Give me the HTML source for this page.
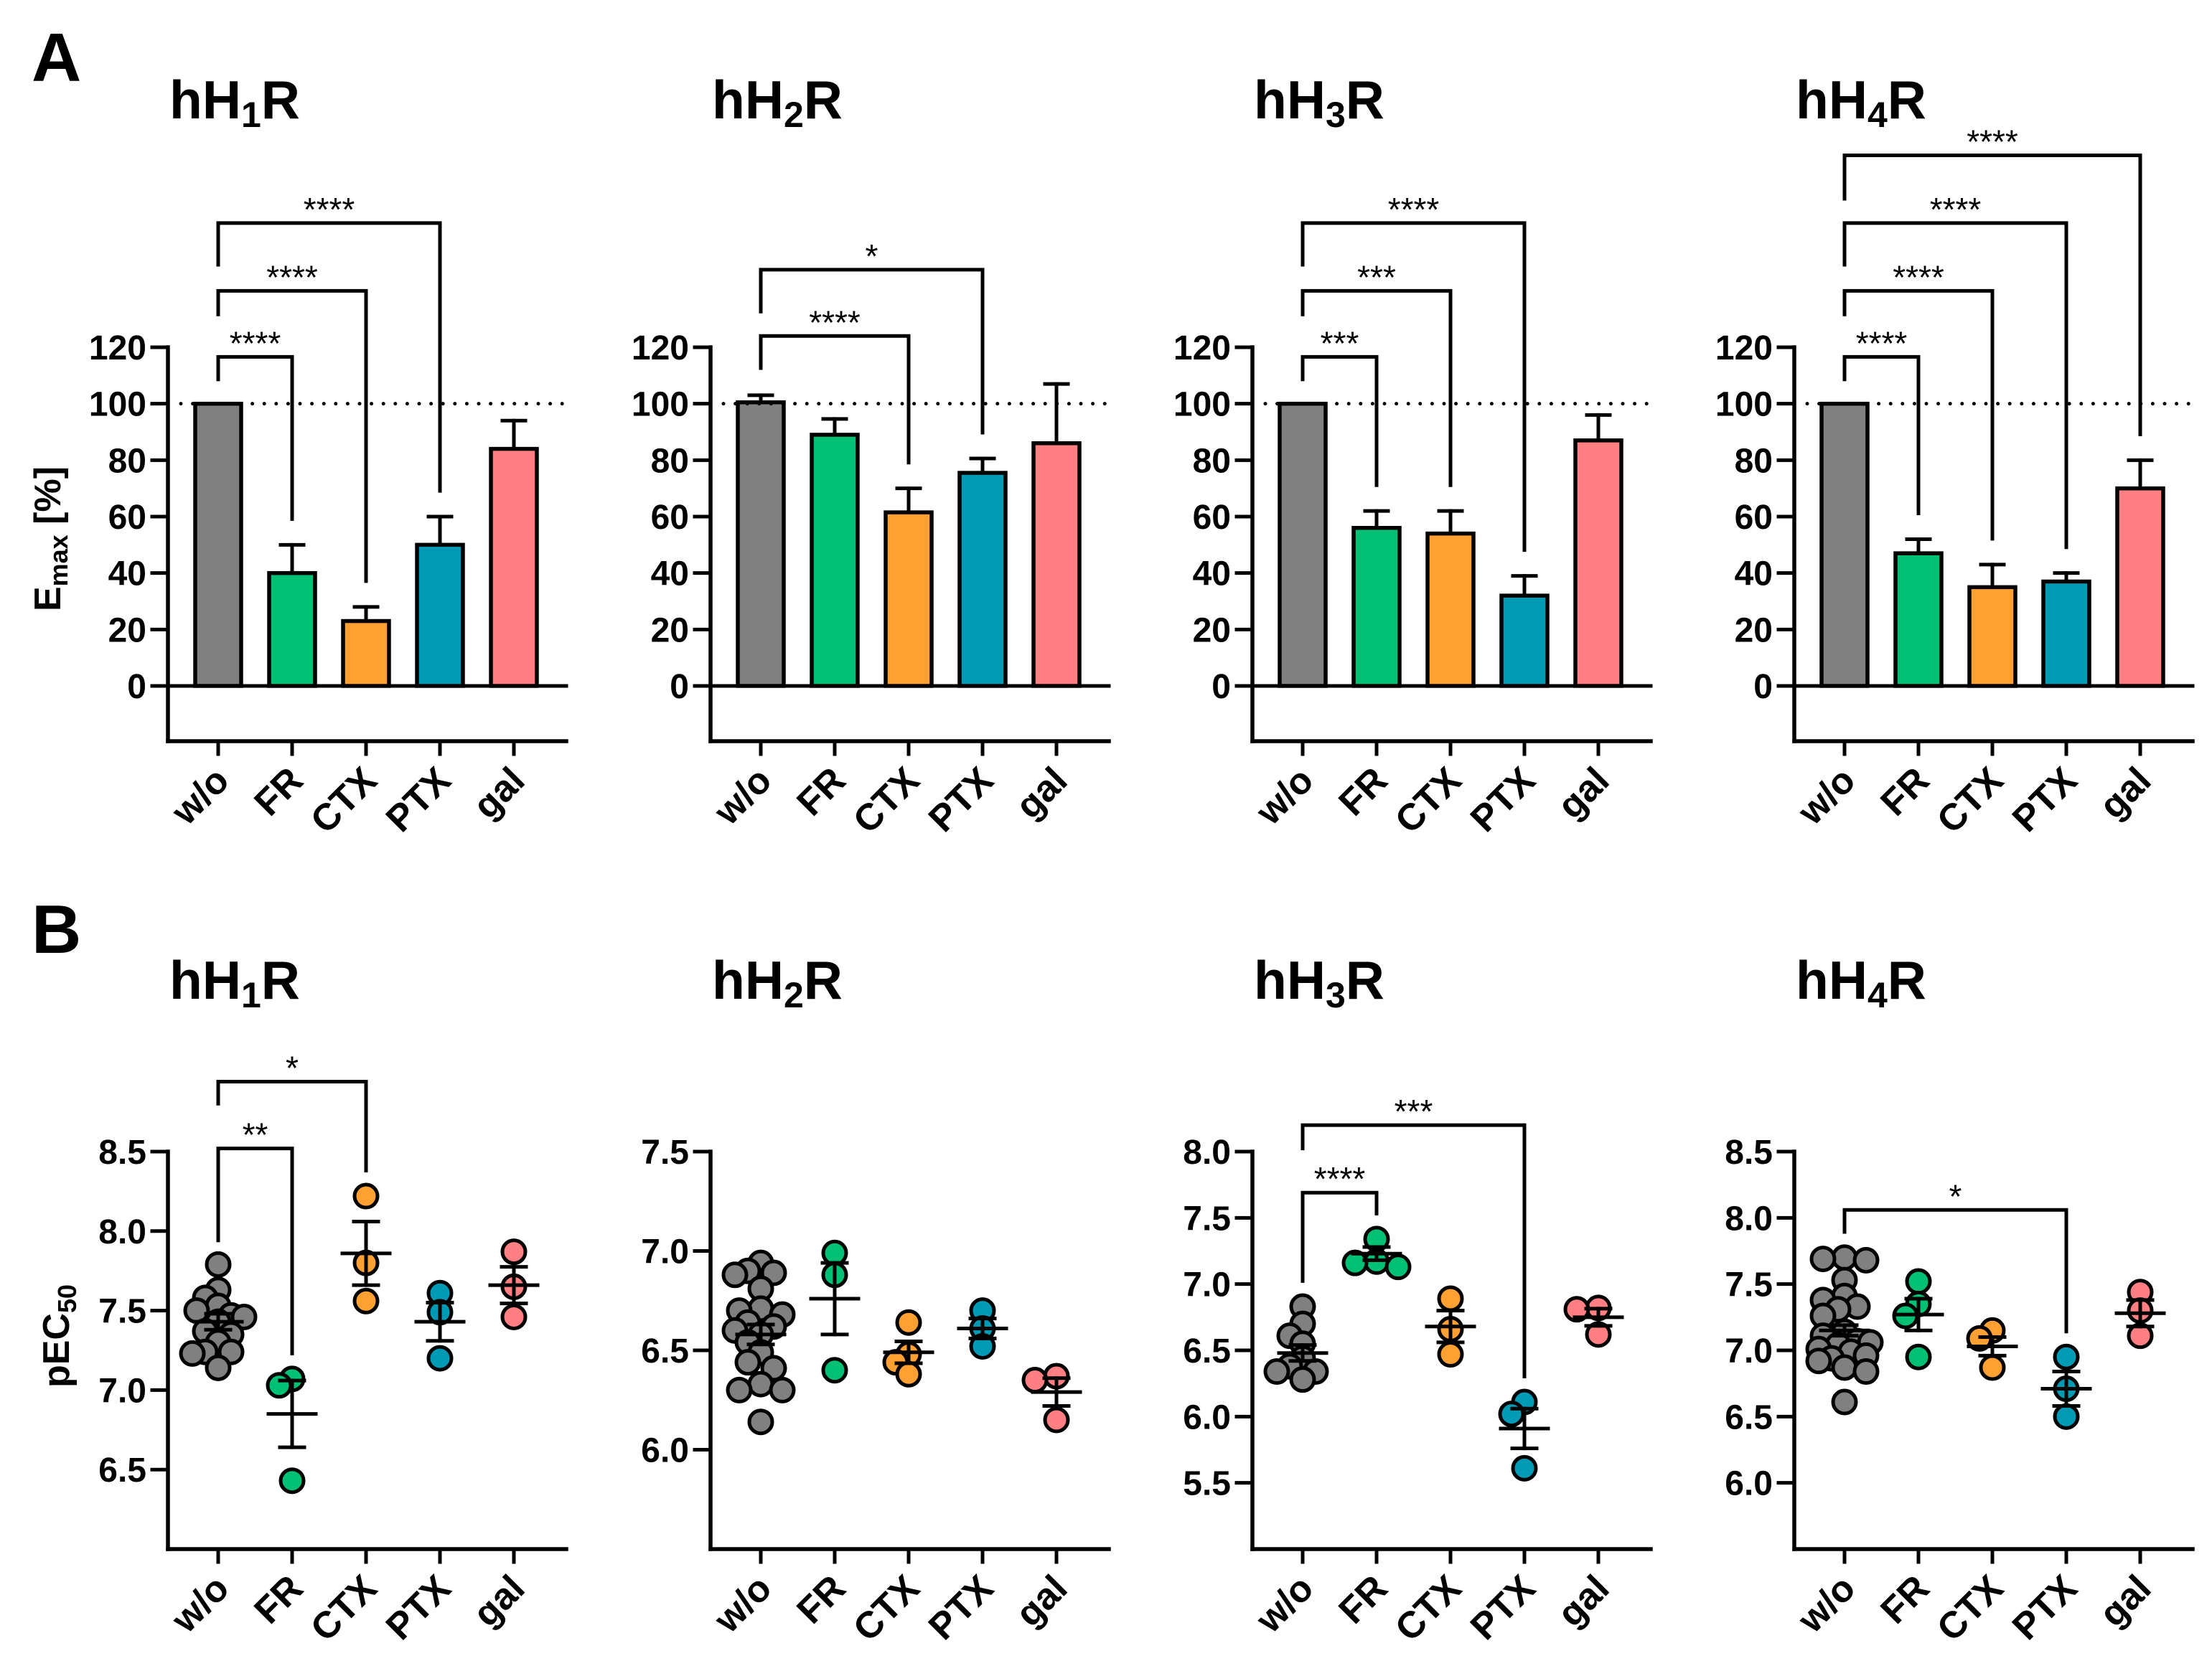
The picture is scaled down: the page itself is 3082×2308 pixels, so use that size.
<!DOCTYPE html>
<html><head><meta charset="utf-8"><title>Emax and pEC50</title>
<style>html,body{margin:0;padding:0;background:#fff}svg{display:block}text{font-family:"Liberation Sans",Arial,sans-serif}</style>
</head><body>
<svg id="fig" xmlns="http://www.w3.org/2000/svg" width="3082" height="2308" viewBox="0 0 3082 2308">
<rect width="3082" height="2308" fill="#fff"/>
<text x="44" y="113" font-size="96" font-weight="bold">A</text>
<text x="44" y="1328" font-size="96" font-weight="bold">B</text>
<text transform="translate(84,751) rotate(-90)" text-anchor="middle" font-size="52" font-weight="bold">E<tspan font-size="36" dy="10">max</tspan><tspan dy="-10"> [%]</tspan></text>
<text transform="translate(96,1862) rotate(-90)" text-anchor="middle" font-size="52" font-weight="bold">pEC<tspan font-size="36" dy="10">50</tspan></text>
</svg>
<script>
const categories = ["w/o","FR","CTX","PTX","gal"];
const receptorNumbers = ["1","2","3","4"];
const emaxMeans = [[100,40,23,50,84],[100.5,89,61.5,75.5,86],[100,56,54,32,87],[100,47,35,37,70]];
const emaxErrTop = [[100,50,28,60,94],[103,94.6,70,80.6,107],[100,62,62,39,96],[100,52,43,40,80]];
const emaxTicks = [0,20,40,60,80,100,120];
const aBracketTargets = [[1,2,3],[2,3],[1,2,3],[1,2,3,4]];
const aBracketTops = [[116.6,140,164],[124,147.5],[116.6,140,164],[116.6,140,164,188]];
const aBracketLeftEnds = [[108,131,148.6],[112,132],[108,131,148.6],[108,131,148.6,172]];
const aBracketLabels = [["****","****","****"],["****","*"],["***","***","****"],["****","****","****","****"]];

const pecPoints = [
 [[7.79,7.63,7.58,7.53,7.50,7.47,7.46,7.43,7.37,7.35,7.30,7.24,7.24,7.23,7.14],[7.07,7.03,6.43],[8.22,7.80,7.56],[7.61,7.49,7.20],[7.87,7.65,7.46]],
 [[6.94,6.90,6.89,6.88,6.81,6.71,6.70,6.68,6.64,6.62,6.60,6.58,6.54,6.49,6.44,6.41,6.33,6.30,6.30,6.14],[6.99,6.88,6.40],[6.64,6.48,6.44,6.38],[6.70,6.61,6.52],[6.37,6.35,6.15]],
 [[6.83,6.70,6.61,6.55,6.44,6.38,6.34,6.34,6.28],[7.34,7.17,7.16,7.13],[6.89,6.66,6.47],[6.11,6.02,5.61],[6.82,6.81,6.62]],
 [[7.70,7.69,7.68,7.53,7.41,7.38,7.33,7.31,7.26,7.14,7.11,7.07,7.06,7.04,7.01,6.99,6.96,6.94,6.92,6.87,6.84,6.61],[7.52,7.35,7.26,6.95],[7.15,7.09,6.87],[6.95,6.71,6.50],[7.44,7.30,7.11]]
];
const pecMeans = [[7.43,6.85,7.86,7.43,7.66],[6.58,6.76,6.49,6.61,6.29],[6.48,7.23,6.68,5.91,6.75],[7.15,7.27,7.03,6.71,7.28]];
const pecSem = [[0.05,0.21,0.2,0.12,0.115],[0.05,0.18,0.055,0.05,0.07],[0.06,0.05,0.12,0.15,0.065],[0.04,0.12,0.07,0.13,0.1]];
const pecMin = [6.0,5.5,5.0,5.5];
const pecMax = [8.5,7.5,8.0,8.5];
const pecTicks = [["6.5","7.0","7.5","8.0","8.5"],["6.0","6.5","7.0","7.5"],["5.5","6.0","6.5","7.0","7.5","8.0"],["6.0","6.5","7.0","7.5","8.0","8.5"]];
const bBracketTargets = [[1,2],[],[1,3],[3]];
const bBracketTops = [[8.52,8.94],[],[7.69,8.2],[8.06]];
const bBracketLeftEnds = [[7.93,8.79],[],[7.01,8.01],[7.88]];
const bBracketLabels = [["**","*"],[],["****","***"],["*"]];

const colors = ["#808080","#00c073","#ffa033","#009ab5","#ff7f82"];
const svg = document.getElementById('fig');
const NS = "http://www.w3.org/2000/svg";
const axisXs = [234, 990, 1745, 2500];
function mk(tag, attrs, parent){ const e=document.createElementNS(NS,tag); for(const k in attrs) e.setAttribute(k,attrs[k]); (parent||svg).appendChild(e); return e; }
function line(p,x1,y1,x2,y2,w){ return mk('line',{x1,y1,x2,y2,stroke:'#000','stroke-width':w||5,'stroke-linecap':'square'},p); }
function catX(ax,i){ return ax+70+i*103; }

function title(g,ax,y,n){
  const t = mk('text',{x:ax+2,y:y,'font-size':75,'font-weight':'bold'},g);
  
  
  t.appendChild(document.createTextNode('hH'));
  const s = mk('tspan',{'font-size':50,dy:12},t); s.textContent=n;
  const r = mk('tspan',{dy:-12},t); r.textContent='R';
}
function xLabels(g,ax,yb){
  categories.forEach((c,i)=>{
    const x=catX(ax,i)+18, y=yb+58;
    const t=mk('text',{transform:`translate(${x},${y}) rotate(-45)`,'text-anchor':'end','font-size':52,'font-weight':'bold'},g);
    
    
    t.textContent=c;
    line(g,catX(ax,i),yb,catX(ax,i),yb+18,5);
  });
}
function bracket(g,x1,x2,yTop,yLeft,yRight,label){
  const p=mk('path',{d:`M${x1},${yLeft} L${x1},${yTop} L${x2},${yTop} L${x2},${yRight}`,fill:'none',stroke:'#000','stroke-width':5},g);
  
  
  const t=mk('text',{x:(x1+x2)/2,y:yTop-3,'text-anchor':'middle','font-size':46},g);
  
  
  t.textContent=label;
}

// Panel A
const aZero=956, aUnit=(956-484)/120, aBottom=1033;
function yA(v){ return aZero - v*aUnit; }
for(let p=0;p<4;p++){
  const ax=axisXs[p];
  const g=mk('g',{});
  
  
  title(g,ax,165,receptorNumbers[p]);
  line(g,ax,yA(120),ax,aBottom,5.5);
  emaxTicks.forEach(v=>{
    line(g,ax-22,yA(v),ax,yA(v),5);
    const t=mk('text',{x:ax-30,y:yA(v)+17,'text-anchor':'end','font-size':48,'font-weight':'bold'},g);
    
    
    t.textContent=v;
  });
  line(g,ax,aBottom,ax+555,aBottom,5.5);
  xLabels(g,ax,aBottom);
  categories.forEach((c,i)=>{
    const cx=catX(ax,i);
    const top=yA(emaxErrTop[p][i]);
    if(emaxErrTop[p][i]>emaxMeans[p][i]){ line(g,cx,yA(emaxMeans[p][i]),cx,top,5); line(g,cx-16,top,cx+16,top,5); }
    const b=mk('rect',{x:cx-32,y:yA(emaxMeans[p][i]),width:64,height:aZero-yA(emaxMeans[p][i]),fill:colors[i],stroke:'#000','stroke-width':5.5},g);
    
    
  });
  line(g,ax,aZero,ax+555,aZero,5);
  const dl=mk('line',{x1:ax+18,y1:yA(100),x2:ax+552,y2:yA(100),stroke:'#000','stroke-width':5,'stroke-dasharray':'0 16.6','stroke-linecap':'round'},g);
  
  
  aBracketTargets[p].forEach((ti,k)=>{
    bracket(g,catX(ax,0),catX(ax,ti),yA(aBracketTops[p][k]),yA(aBracketLeftEnds[p][k]),yA(emaxErrTop[p][ti]+8.5),aBracketLabels[p][k]);
  });
}

// Panel B
const bTop=1605, bBottom=2159;
for(let p=0;p<4;p++){
  const ax=axisXs[p];
  const unit=(bBottom-bTop)/(pecMax[p]-pecMin[p]);
  const yB=v=>bBottom-(v-pecMin[p])*unit;
  const g=mk('g',{});
  
  
  title(g,ax,1392,receptorNumbers[p]);
  line(g,ax,bTop,ax,bBottom,5.5);
  pecTicks[p].forEach(s=>{
    const v=parseFloat(s);
    line(g,ax-22,yB(v),ax,yB(v),5);
    const t=mk('text',{x:ax-30,y:yB(v)+17,'text-anchor':'end','font-size':48,'font-weight':'bold'},g);
    
    
    t.textContent=s;
  });
  line(g,ax,bBottom,ax+555,bBottom,5.5);
  xLabels(g,ax,bBottom);
  categories.forEach((c,i)=>{
    const cx=catX(ax,i);
    const pts=pecPoints[p][i];
    const placed=[];
    const offs=[0,-18,18,-30,30,-9,9,-24,24,-36,36];
    pts.forEach(v=>{
      const y=yB(v);
      let best=0,bestD=-1;
      for(const o of offs){
        let md=1e9;
        placed.forEach(q=>{ md=Math.min(md,Math.hypot(q[0]-o,q[1]-y)); });
        if(md>=20){best=o;bestD=md;break;}
        if(md>bestD){bestD=md;best=o;}
      }
      placed.push([best,y]);
      const d=mk('circle',{cx:cx+best,cy:y,r:16,fill:colors[i],stroke:'#000','stroke-width':5},g);
      
      
    });
    const m=yB(pecMeans[p][i]), hi=yB(pecMeans[p][i]+pecSem[p][i]), lo=yB(pecMeans[p][i]-pecSem[p][i]);
    line(g,cx-33,m,cx+33,m,5);
    line(g,cx,hi,cx,lo,5);
    line(g,cx-17,hi,cx+17,hi,5);
    line(g,cx-17,lo,cx+17,lo,5);
  });
  bBracketTargets[p].forEach((ti,k)=>{
    const mx=Math.max(...pecPoints[p][ti]);
    bracket(g,catX(ax,0),catX(ax,ti),yB(bBracketTops[p][k]),yB(bBracketLeftEnds[p][k]),yB(mx)-33,bBracketLabels[p][k]);
  });
}
</script>
</body></html>
